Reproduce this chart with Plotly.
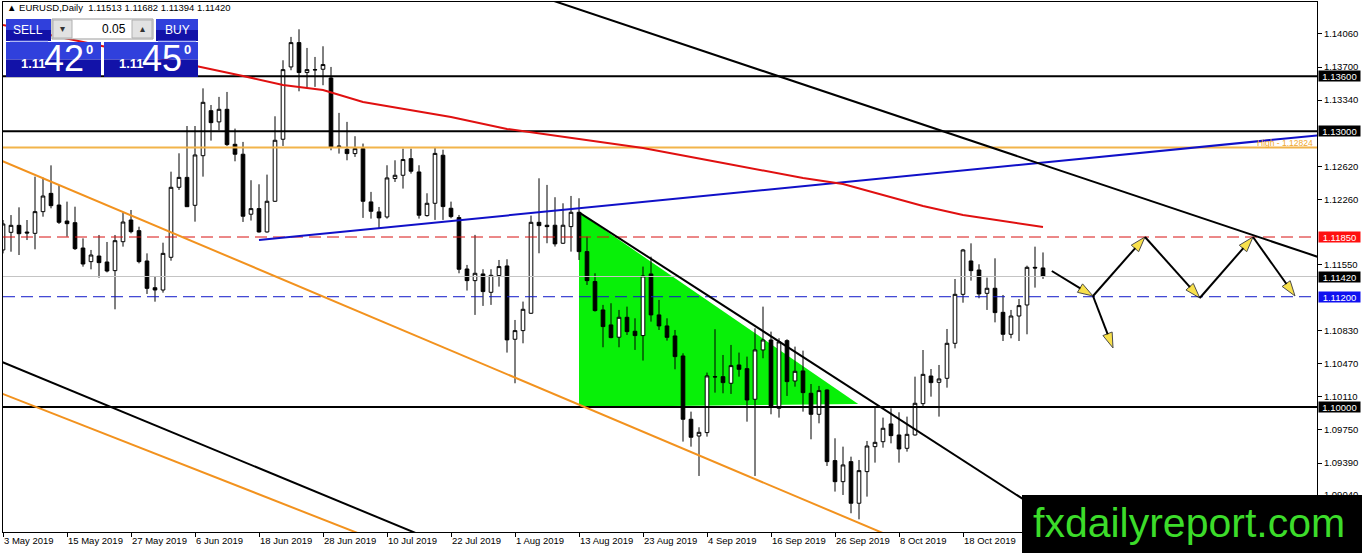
import plotly.graph_objects as go

# EURUSD daily candles, 3 May 2019 .. 1 Nov 2019 (one bar per trading day)
opens = [1.11709, 1.11901, 1.11977, 1.11904, 1.11890, 1.12126, 1.12325, 1.12198, 1.12024, 1.12006,
         1.11730, 1.11582, 1.11643, 1.11578, 1.11484, 1.11799, 1.12035, 1.11919, 1.11589, 1.11298,
         1.11273, 1.11629, 1.12391, 1.12499, 1.12195, 1.12735, 1.13225, 1.13103, 1.13240, 1.12859,
         1.12751, 1.12098, 1.12159, 1.11905, 1.12239, 1.12914, 1.13701, 1.13966, 1.13640, 1.13672,
         1.13676, 1.13581, 1.12841, 1.12805, 1.12758, 1.12812, 1.12232, 1.12123, 1.12068, 1.12486,
         1.12522, 1.12703, 1.12558, 1.12083, 1.12217, 1.12740, 1.12163, 1.12061, 1.11502, 1.11375,
         1.11448, 1.11248, 1.11430, 1.11535, 1.10737, 1.10831, 1.11020, 1.12010, 1.11978, 1.11978,
         1.11782, 1.11963, 1.12119, 1.11691, 1.11365, 1.11056, 1.10893, 1.10759, 1.10976, 1.10824,
         1.10777, 1.11448, 1.11002, 1.10882, 1.10773, 1.10555, 1.09866, 1.09684, 1.09721, 1.10330,
         1.10330, 1.10258, 1.10457, 1.10417, 1.10084, 1.10621, 1.10729, 1.09986, 1.10722, 1.10283,
         1.10392, 1.10149, 1.09920, 1.10185, 1.09416, 1.09187, 1.09405, 1.08952, 1.09296, 1.09568,
         1.09622, 1.09815, 1.09695, 1.09550, 1.09695, 1.10036, 1.10337, 1.10268, 1.10312, 1.10693,
         1.11226, 1.11589, 1.11491, 1.11237, 1.11292, 1.11030, 1.10791, 1.10990, 1.11110, 1.11520,
         1.11513]
highs = [1.12035, 1.12089, 1.12173, 1.12035, 1.12507, 1.12496, 1.12630, 1.12416, 1.12235, 1.12180,
         1.11835, 1.11709, 1.11872, 1.11796, 1.11872, 1.12115, 1.12144, 1.11962, 1.11672, 1.11425,
         1.11788, 1.12561, 1.12761, 1.13058, 1.13058, 1.13468, 1.13287, 1.13375, 1.13429, 1.13030,
         1.12885, 1.12468, 1.12424, 1.12529, 1.13164, 1.13774, 1.14028, 1.14111, 1.13908, 1.13810,
         1.13926, 1.13701, 1.13201, 1.13103, 1.12947, 1.12867, 1.12341, 1.12177, 1.12631, 1.12685,
         1.12812, 1.12812, 1.12631, 1.12326, 1.12830, 1.12800, 1.12235, 1.12090, 1.11546, 1.11873,
         1.11499, 1.11499, 1.11600, 1.11608, 1.10947, 1.11147, 1.12083, 1.12489, 1.12417, 1.12283,
         1.12217, 1.12297, 1.12272, 1.11854, 1.11455, 1.11111, 1.11129, 1.11056, 1.11092, 1.10965,
         1.11528, 1.11636, 1.11165, 1.10965, 1.10838, 1.10584, 1.09949, 1.09779, 1.10374, 1.10846,
         1.10566, 1.10675, 1.10592, 1.10548, 1.10856, 1.11092, 1.10820, 1.10748, 1.10737, 1.10657,
         1.10613, 1.10250, 1.10229, 1.10192, 1.09659, 1.09568, 1.09459, 1.09423, 1.09630, 1.09993,
         1.09884, 1.09985, 1.09942, 1.09895, 1.10330, 1.10620, 1.10413, 1.10457, 1.10849, 1.11393,
         1.11720, 1.11781, 1.11553, 1.11408, 1.11618, 1.11219, 1.11056, 1.11175, 1.11538, 1.11745,
         1.11682]
lows = [1.11672, 1.11690, 1.11654, 1.11817, 1.11716, 1.12071, 1.12162, 1.11992, 1.11854, 1.11709,
        1.11527, 1.11498, 1.11407, 1.11465, 1.11063, 1.11745, 1.11890, 1.11563, 1.11230, 1.11146,
        1.11244, 1.11592, 1.12362, 1.12180, 1.12017, 1.12507, 1.12899, 1.13012, 1.12841, 1.12674,
        1.12014, 1.12029, 1.11898, 1.11898, 1.12232, 1.12841, 1.13665, 1.13436, 1.13480, 1.13484,
        1.13502, 1.12794, 1.12758, 1.12685, 1.12722, 1.12058, 1.12050, 1.11941, 1.12050, 1.12449,
        1.12377, 1.12540, 1.12050, 1.12072, 1.12036, 1.12036, 1.12054, 1.11455, 1.11267, 1.11002,
        1.11100, 1.11111, 1.11310, 1.10592, 1.10258, 1.10693, 1.11013, 1.11673, 1.11782, 1.11746,
        1.11775, 1.11691, 1.11600, 1.11328, 1.11038, 1.10650, 1.10748, 1.10650, 1.10784, 1.10621,
        1.10505, 1.10929, 1.10838, 1.10722, 1.10410, 1.09623, 1.09568, 1.09249, 1.09677, 1.10156,
        1.10149, 1.10142, 1.10330, 1.09840, 1.09249, 1.10530, 1.09920, 1.09884, 1.10120, 1.10221,
        1.09949, 1.09648, 1.09822, 1.09358, 1.09079, 1.09042, 1.08843, 1.08777, 1.09024, 1.09394,
        1.09557, 1.09604, 1.09394, 1.09514, 1.09688, 1.10003, 1.10112, 1.09895, 1.10210, 1.10638,
        1.11135, 1.11375, 1.11183, 1.11056, 1.10921, 1.10718, 1.10747, 1.10718, 1.10791, 1.11299,
        1.11394]
closes = [1.11992, 1.11977, 1.11886, 1.11894, 1.12126, 1.12296, 1.12191, 1.12010, 1.11995, 1.11723,
          1.11556, 1.11654, 1.11571, 1.11480, 1.11810, 1.12013, 1.11908, 1.11582, 1.11291, 1.11273,
          1.11672, 1.12391, 1.12499, 1.12180, 1.12743, 1.13316, 1.13095, 1.13240, 1.12856, 1.12751,
          1.12076, 1.12159, 1.11905, 1.12239, 1.12903, 1.13672, 1.13966, 1.13640, 1.13672, 1.13669,
          1.13727, 1.12830, 1.12834, 1.12758, 1.12812, 1.12239, 1.12130, 1.12058, 1.12493, 1.12522,
          1.12693, 1.12566, 1.12087, 1.12217, 1.12760, 1.12181, 1.12072, 1.11499, 1.11375, 1.11455,
          1.11256, 1.11433, 1.11528, 1.10730, 1.10831, 1.11063, 1.12010, 1.11974, 1.11963, 1.11775,
          1.11978, 1.12119, 1.11691, 1.11375, 1.11049, 1.10875, 1.10755, 1.10976, 1.10820, 1.10777,
          1.11426, 1.11002, 1.10882, 1.10758, 1.10548, 1.09866, 1.09670, 1.09724, 1.10338, 1.10327,
          1.10265, 1.10450, 1.10410, 1.10076, 1.10621, 1.10729, 1.10004, 1.10708, 1.10276, 1.10388,
          1.10156, 1.09920, 1.10178, 1.09405, 1.09187, 1.09369, 1.08952, 1.09307, 1.09575, 1.09615,
          1.09768, 1.09688, 1.09543, 1.09702, 1.10040, 1.10355, 1.10265, 1.10305, 1.10693, 1.11226,
          1.11709, 1.11484, 1.11230, 1.11292, 1.11027, 1.10791, 1.10990, 1.11103, 1.11520, 1.11513,
          1.11420]

# red moving average, sampled at these bars
ma_bars = [0, 25, 30, 35, 40, 45, 50, 56, 63, 70, 80, 90, 100, 105, 110, 115, 120, 125, 130]
ma_vals = [1.14158, 1.13701, 1.13603, 1.13505, 1.13450, 1.13320, 1.13244, 1.13156, 1.13026, 1.12939,
           1.12819, 1.12656, 1.12492, 1.12427, 1.12307, 1.12188, 1.12090, 1.12024, 1.11959]

# date labels every 8 bars (the one under the watermark is not visible)
date_ticks = ["3 May 2019", "15 May 2019", "27 May 2019", "6 Jun 2019", "18 Jun 2019", "28 Jun 2019",
              "10 Jul 2019", "22 Jul 2019", "1 Aug 2019", "13 Aug 2019", "23 Aug 2019", "4 Sep 2019",
              "16 Sep 2019", "26 Sep 2019", "8 Oct 2019", "18 Oct 2019"]
# price scale labels that are not hidden behind a level box
price_ticks = [1.14060, 1.13700, 1.13340, 1.12620, 1.12260, 1.11550,
               1.10830, 1.10470, 1.10110, 1.09750, 1.09390, 1.09040]

# horizontal levels: price, colour, dash, width, label box colour
levels = [1.13600, 1.13000, 1.12824, 1.11850, 1.11420, 1.11200, 1.10000]
level_colors = ["black", "black", "#f2b44a", "#d81010", "#c4c4c4", "#1018c8", "black"]
level_dash = ["solid", "solid", "solid", "dash", "solid", "dash", "solid"]
level_width = [2, 2, 2, 1, 1, 1, 2]
level_box = ["black", "black", None, "#ff1010", "black", "#1010f0", "black"]

# trend lines: two anchor points (bar, price); rays start at their first anchor
trend_a = [(32, 1.11818), (70, 1.14386), (72, 1.12119), (0, 1.12674), (0, 1.10141), (0, 1.10485)]
trend_b = [(150, 1.12833), (130, 1.12636), (130, 1.08857), (100, 1.08995), (44, 1.08639), (40, 1.09045)]
trend_ray = [True, False, True, False, False, False]
trend_colors = ["#1010c8", "black", "black", "#f2921e", "#f2921e", "black"]

# green triangle
tri_bars = [72, 72, 106.9]
tri_prices = [1.12119, 1.10000, 1.10032]

# projected path arrows (tail -> head)
arrow_from = [(131.1, 1.11480), (136.25, 1.11208), (136.25, 1.11208), (142.75, 1.11850),
              (149.6, 1.11186), (156.25, 1.11850)]
arrow_to = [(136.25, 1.11208), (142.75, 1.11850), (138.75, 1.10642), (149.6, 1.11186),
            (156.25, 1.11850), (161.5, 1.11208)]

X0, X1 = 0, 164.25
Y0, Y1 = 1.08639, 1.14408
W, H = 1362, 553
ML, MR, MT, MB = 3, 45, 2, 21
PW, PH = W - ML - MR, H - MT - MB

def px(x):  # screen pixel -> paper x
    return (x - ML) / PW

def py(y):  # screen pixel -> paper y
    return (H - MB - y) / PH

FONT = "Liberation Sans"
fig = go.Figure()

bars = list(range(len(opens)))
fig.add_trace(go.Candlestick(x=bars, open=opens, high=highs, low=lows, close=closes,
                             increasing=dict(fillcolor="white", line=dict(color="black", width=1)),
                             decreasing=dict(fillcolor="black", line=dict(color="black", width=1)),
                             whiskerwidth=0))

for p, c, d, w in zip(levels, level_colors, level_dash, level_width):
    fig.add_trace(go.Scatter(x=[X0, X1], y=[p, p], mode="lines",
                             line=dict(color=c, dash="12px,6px" if d == "dash" else d, width=w)))

for a, b, ray, c in zip(trend_a, trend_b, trend_ray, trend_colors):
    s = (b[1] - a[1]) / (b[0] - a[0])
    xl = a[0] if ray else X0 - 20
    xs = [xl, X1 + 5]
    fig.add_trace(go.Scatter(x=xs, y=[a[1] + s * (x - a[0]) for x in xs], mode="lines",
                             line=dict(color=c, width=2)))

fig.add_trace(go.Scatter(x=ma_bars, y=ma_vals, mode="lines", line=dict(color="#e01010", width=2)))

for (ax, ay), (bx, by) in zip(arrow_from, arrow_to):
    fig.add_trace(go.Scatter(x=[ax, bx], y=[ay, by], mode="lines+markers",
                             line=dict(color="black", width=2),
                             marker=dict(symbol="arrow", size=[0, 16], angleref="previous",
                                         color="#f6d400", line=dict(color="black", width=1))))

shapes = []
# green triangle sits behind the candles
tri_path = "M " + " L ".join(f"{b},{p}" for b, p in zip(tri_bars, tri_prices)) + " Z"
shapes.append(dict(type="path", xref="x", yref="y", path=tri_path, fillcolor="#08f008",
                   line=dict(width=0), layer="below"))

ann = []
for p, bc in zip(levels, level_box):
    if bc:
        ann.append(dict(xref="paper", yref="y", x=1, y=p, xanchor="left", yanchor="middle", xshift=1,
                        text=f"{p:.5f}", showarrow=False, bgcolor=bc, width=41, height=10,
                        borderpad=0, font=dict(family=FONT, size=9.5, color="white")))
ann.append(dict(xref="paper", yref="y", x=1, y=levels[2], xanchor="right", yanchor="bottom", xshift=-2,
                yshift=-2, text="High - 1.12824", showarrow=False,
                font=dict(family=FONT, size=8.5, color="#f0a830")))

# header
ann.append(dict(xref="paper", yref="paper", x=px(5), y=py(8), xanchor="left", yanchor="middle",
                text="▲ EURUSD,Daily  1.11513 1.11682 1.11394 1.11420", showarrow=False,
                font=dict(family=FONT, size=9.5, color="black")))

BLUE_T, BLUE_B = "#3040dc", "#1212a8"

def rect(x0, y0, x1, y1, fill, line=None):
    shapes.append(dict(type="rect", xref="paper", yref="paper", x0=px(x0), x1=px(x1), y0=py(y1), y1=py(y0),
                       fillcolor=fill, line=dict(width=1 if line else 0, color=line or fill), layer="above"))

def button(x0, y0, x1, y1):
    m = (y0 + y1) / 2
    rect(x0, y0, x1, m, BLUE_T)
    rect(x0, m, x1, y1, BLUE_B)

# one-click trading panel
button(6, 19, 51, 41)
button(156, 19, 198, 41)
rect(52, 19, 153, 39, "white", "#9a9a9a")
rect(53, 20, 72, 38, "#e2e2e2", "#b0b0b0")
rect(132, 20, 152, 38, "#e2e2e2", "#b0b0b0")
button(6, 42, 101, 77)
button(104, 42, 198, 77)
for x0, x1 in [(10, 48), (158, 196)]:
    shapes.append(dict(type="line", xref="paper", yref="paper", x0=px(x0), x1=px(x1), y0=py(41), y1=py(41),
                       line=dict(color="#6070e8", width=1), layer="above"))

def label(x, y, t, size, bold=False, color="white", anchor="center"):
    ann.append(dict(xref="paper", yref="paper", x=px(x), y=py(y), xanchor=anchor, yanchor="middle",
                    text=f"<b>{t}</b>" if bold else t, showarrow=False,
                    font=dict(family=FONT, size=size, color=color)))

label(28, 30, "SELL", 12)
label(177, 30, "BUY", 12)
label(62, 29, "▾", 10, color="#333333")
label(142, 29, "▴", 10, color="#333333")
label(128, 29, "0.05", 12, color="black", anchor="right")
for cx, big in [(6, "42"), (104, "45")]:
    label(cx + 27, 64, "1.11", 13, bold=True)
    label(cx + 58, 59, big, 36)
    label(cx + 83, 50, "0", 13, bold=True)

# watermark
shapes.append(dict(type="rect", xref="paper", yref="paper", x0=px(1022), x1=px(1362), y0=py(553), y1=py(495),
                   fillcolor="black", line=dict(width=0), layer="above"))
ann.append(dict(xref="paper", yref="paper", x=px(1189), y=py(523), xanchor="center", yanchor="middle",
                text="fxdailyreport.com", showarrow=False, font=dict(family=FONT, size=41, color="#3cdc2a")))

fig.update_layout(
    width=W, height=H, margin=dict(l=ML, r=MR, t=MT, b=MB, autoexpand=False),
    paper_bgcolor="white", plot_bgcolor="white", showlegend=False,
    shapes=shapes, annotations=ann, boxgap=0.35,
)
fig.update_xaxes(range=[X0, X1], showgrid=False, zeroline=False, rangeslider=dict(visible=False),
                 showline=True, linecolor="black", linewidth=1, mirror=True,
                 tickvals=[8 * i for i in range(len(date_ticks))], ticktext=date_ticks,
                 ticks="outside", ticklen=4, tickcolor="black", ticklabelposition="outside right",
                 tickfont=dict(family=FONT, size=9.5, color="black"))
fig.update_yaxes(range=[Y0, Y1], side="right", showgrid=False, zeroline=False,
                 showline=True, linecolor="black", linewidth=1, mirror=True,
                 tickvals=price_ticks, ticktext=[f"{v:.5f}" for v in price_ticks],
                 ticks="outside", ticklen=4, tickcolor="black",
                 tickfont=dict(family=FONT, size=9.5, color="black"))

# the page body keeps a default 8px margin; drop it so the chart fills the window
fig.write_html("out.html", config={"displayModeBar": False},
               post_script="document.body.style.margin='0';")
